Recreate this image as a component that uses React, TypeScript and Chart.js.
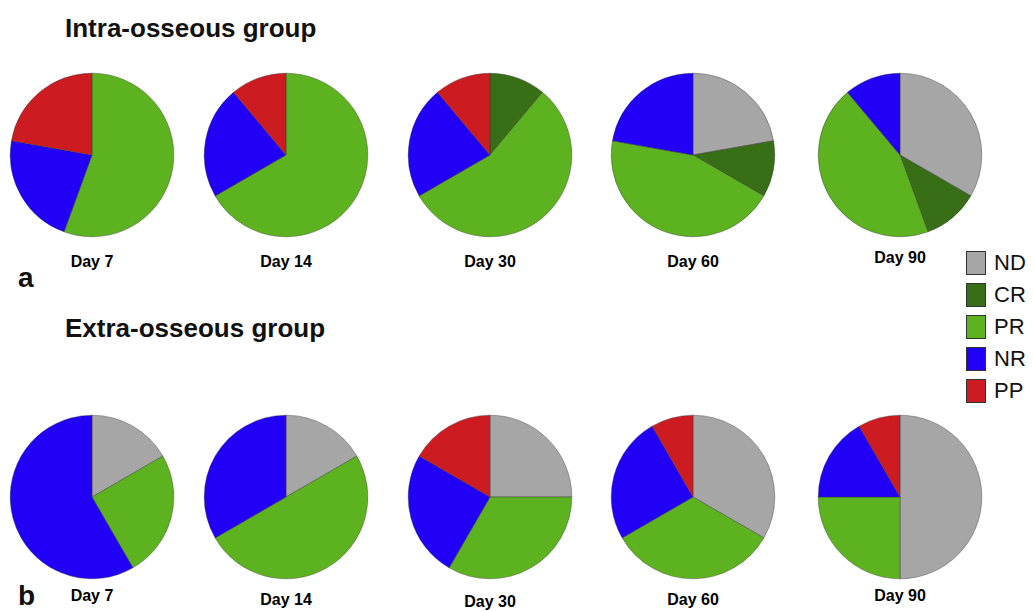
import React, { useEffect, useRef } from "react";
import { Chart, registerables } from "chart.js";
Chart.register(...registerables);

const categories = ["ND", "CR", "PR", "NR", "PP"];
const colors = ["#a6a6a6", "#386e15", "#5db31f", "#2200f5", "#cc1c22"];
const dayLabels = ["Day 7", "Day 14", "Day 30", "Day 60", "Day 90"];
const intraValues = [
  [0, 0, 5, 2, 2],
  [0, 0, 6, 2, 1],
  [0, 1, 5, 2, 1],
  [2, 1, 4, 2, 0],
  [3, 1, 4, 1, 0],
];
const extraValues = [
  [2, 0, 3, 7, 0],
  [2, 0, 6, 4, 0],
  [3, 0, 4, 3, 2],
  [4, 0, 4, 3, 1],
  [6, 0, 3, 2, 1],
];
const centersX = [92, 286, 490, 693, 900];
const R = 82;

function Pie({ values, cx, cy }: { values: number[]; cx: number; cy: number }) {
  const ref = useRef<HTMLCanvasElement>(null);
  useEffect(() => {
    const c = new Chart(ref.current!, {
      type: "pie",
      data: {
        labels: categories,
        datasets: [{ data: values, backgroundColor: colors, borderColor: "#333", borderWidth: 0.4 }],
      },
      options: {
        animation: false,
        responsive: false,
        layout: { padding: 2 },
        plugins: { legend: { display: false }, tooltip: { enabled: false } },
      },
    });
    return () => c.destroy();
  }, []);
  const s = 2 * R + 4;
  return (
    <canvas ref={ref} width={s} height={s}
      style={{ position: "absolute", left: cx - s / 2, top: cy - s / 2, width: s, height: s }} />
  );
}

const txt = (t: string, x: number, y: number, size: number, extra: any = {}) => (
  <div style={{ position: "absolute", left: x, top: y, fontSize: size, fontFamily: "Liberation Sans, Arial, sans-serif", fontWeight: "bold", color: "#111", whiteSpace: "nowrap", ...extra }}>{t}</div>
);

export default function App() {
  return (
    <div style={{ position: "absolute", left: 0, top: 0, width: 1033, height: 611, background: "#fff" }}>
      {txt("Intra-osseous group", 65, 13, 26)}
      {txt("Extra-osseous group", 65, 313, 26)}
      {txt("a", 18, 262, 28)}
      {txt("b", 18, 580, 28)}
      {intraValues.map((v, i) => <Pie key={"a" + i} values={v} cx={centersX[i]} cy={155} />)}
      {extraValues.map((v, i) => <Pie key={"b" + i} values={v} cx={centersX[i]} cy={497} />)}
      {dayLabels.map((d, i) => (
        <div key={"la" + i} style={{ position: "absolute", left: centersX[i] - 60, width: 120, textAlign: "center", top: i === 4 ? 249 : 253, fontSize: 16, fontWeight: "bold", fontFamily: "Liberation Sans, Arial, sans-serif" }}>{d}</div>
      ))}
      {dayLabels.map((d, i) => (
        <div key={"lb" + i} style={{ position: "absolute", left: centersX[i] - 60, width: 120, textAlign: "center", top: [587, 591, 593, 591, 587][i], fontSize: 16, fontWeight: "bold", fontFamily: "Liberation Sans, Arial, sans-serif" }}>{d}</div>
      ))}
      {categories.map((c, i) => (
        <div key={c} style={{ position: "absolute", left: 966, top: 250 + i * 32, display: "flex", alignItems: "center" }}>
          <div style={{ width: 20, height: 24, background: colors[i], border: "1.5px solid #333", boxSizing: "border-box" }} />
          <span style={{ marginLeft: 8, fontSize: 22, fontFamily: "Liberation Sans, Arial, sans-serif", color: "#111" }}>{c}</span>
        </div>
      ))}
    </div>
  );
}
